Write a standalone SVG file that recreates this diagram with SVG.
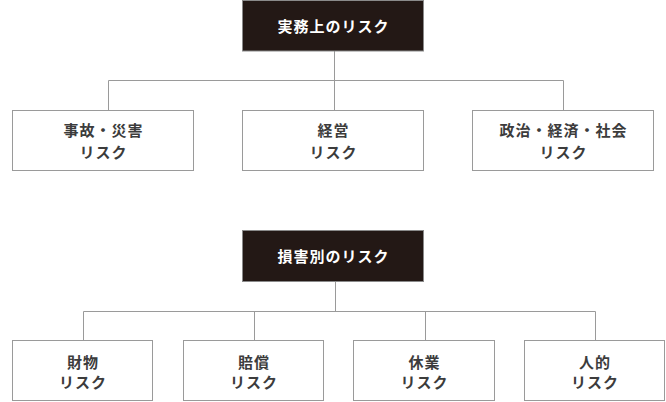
<svg xmlns="http://www.w3.org/2000/svg" width="666" height="402" viewBox="0 0 666 402">
<style>
.box{fill:#fff;stroke:#9a9a9a;stroke-width:1}
.head{fill:#231815;stroke:#8a8a8a;stroke-width:1}
.conn{stroke:#9a9a9a;stroke-width:1;fill:none}
text{font-family:"Noto Sans CJK JP","Noto Sans",sans-serif;font-weight:bold;font-size:15px;letter-spacing:1px;text-anchor:middle}
.ht{fill:#ffffff}
.t{fill:#3c3c3c}
</style>
<rect width="666" height="402" fill="#fff"/>
<g id="connectors">
<path class="conn" d="M334.5 51V110.5M108.5 80.5H563.5M108.5 80.5V110.5M563.5 80.5V110.5"/>
<path class="conn" d="M335.5 281.5V311.5M83.5 311.5H595.5M83.5 311.5V340.5M254.5 311.5V340.5M425.5 311.5V340.5M595.5 311.5V340.5"/>
</g>
<g id="jitsumu">
<rect class="head" x="242.5" y="0.5" width="181" height="50.5"/>
<text class="ht" x="333.5" y="32.2">実務上のリスク</text>
</g>
<g id="jiko">
<rect class="box" x="12.5" y="110.5" width="181" height="60"/>
<text class="t" x="103.5" y="135.7">事故・災害</text>
<text class="t" x="103.5" y="157.7">リスク</text>
</g>
<g id="keiei">
<rect class="box" x="242.5" y="110.5" width="181" height="60"/>
<text class="t" x="333.5" y="135.7">経営</text>
<text class="t" x="333.5" y="157.7">リスク</text>
</g>
<g id="seiji">
<rect class="box" x="472.5" y="110.5" width="181" height="60"/>
<text class="t" x="563.5" y="135.7">政治・経済・社会</text>
<text class="t" x="563.5" y="157.7">リスク</text>
</g>
<g id="songai">
<rect class="head" x="242.5" y="230.5" width="181" height="51"/>
<text class="ht" x="333.5" y="262.4">損害別のリスク</text>
</g>
<g id="zaibutsu">
<rect class="box" x="12.5" y="340.5" width="140" height="60"/>
<text class="t" x="83" y="367.6">財物</text>
<text class="t" x="83" y="387.6">リスク</text>
</g>
<g id="baisho">
<rect class="box" x="183.5" y="340.5" width="140" height="60"/>
<text class="t" x="254" y="367.6">賠償</text>
<text class="t" x="254" y="387.6">リスク</text>
</g>
<g id="kyugyo">
<rect class="box" x="353.5" y="340.5" width="141" height="60"/>
<text class="t" x="424.5" y="367.6">休業</text>
<text class="t" x="424.5" y="387.6">リスク</text>
</g>
<g id="jinteki">
<rect class="box" x="524.5" y="340.5" width="140" height="60"/>
<text class="t" x="595" y="367.6">人的</text>
<text class="t" x="595" y="387.6">リスク</text>
</g>
</svg>
